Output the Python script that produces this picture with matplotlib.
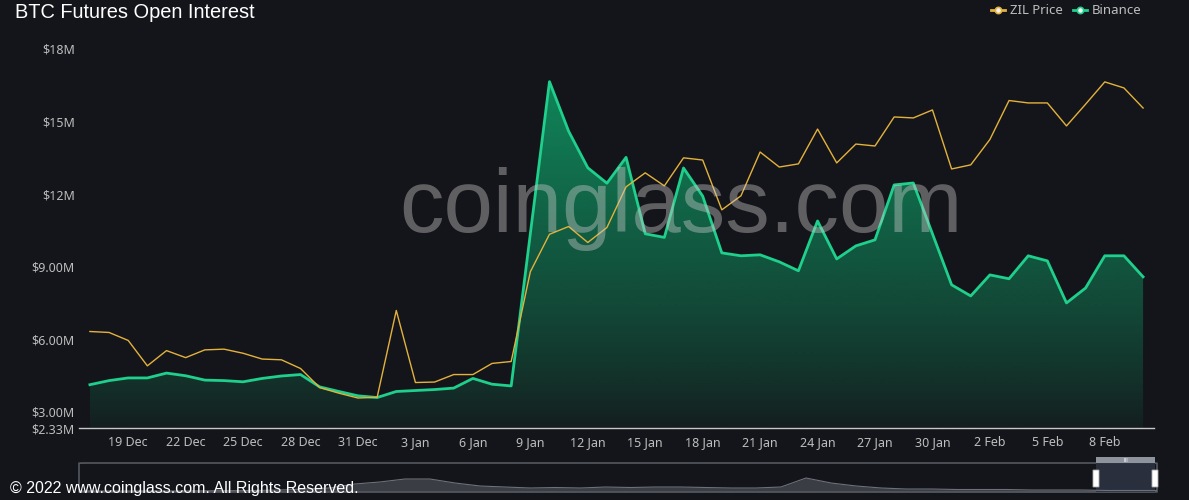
import numpy as np
import pandas as pd
import matplotlib
matplotlib.use('Agg')
import matplotlib.pyplot as plt
from matplotlib.patches import FancyBboxPatch, Rectangle
from matplotlib.lines import Line2D

# daily points, 17 Dec 2021 .. 10 Feb 2022 (values in $M)
dates = pd.date_range('2021-12-17', '2022-02-10', freq='D')

zil_price = [6.32, 6.28, 5.95, 4.90, 5.53, 5.24, 5.56, 5.59, 5.42, 5.18,
             5.15, 4.79, 4.00, 3.77, 3.57, 3.60, 7.19, 4.21, 4.23, 4.54,
             4.54, 5.00, 5.08, 8.79, 10.34, 10.66, 10.00, 10.62, 12.30, 12.88,
             12.34, 13.50, 13.41, 11.35, 11.93, 13.74, 13.12, 13.25, 14.69, 13.29,
             14.07, 13.99, 15.19, 15.15, 15.48, 13.04, 13.21, 14.26, 15.87, 15.77,
             15.77, 14.82, 15.72, 16.64, 16.39, 15.56]

binance = [4.12, 4.29, 4.40, 4.40, 4.60, 4.49, 4.31, 4.29, 4.24, 4.38,
           4.48, 4.54, 4.03, 3.84, 3.66, 3.59, 3.84, 3.88, 3.92, 3.98,
           4.38, 4.14, 4.07, 10.36, 16.65, 14.60, 13.09, 12.45, 13.52, 10.36,
           10.21, 13.08, 11.92, 9.57, 9.45, 9.49, 9.20, 8.83, 10.89, 9.32,
           9.86, 10.11, 12.38, 12.46, 10.36, 8.25, 7.79, 8.66, 8.50, 9.45,
           9.24, 7.50, 8.12, 9.45, 9.45, 8.58]

y_ticks = [2.33, 3, 6, 9, 12, 15, 18]
y_labels = ['$2.33M', '$3.00M', '$6.00M', '$9.00M', '$12M', '$15M', '$18M']

# overview series shown in the zoom slider (full history, rough shape)
overview = [1, 1, 1, 1, 1, 1.2, 1.3, 1.5, 2, 3, 4, 8, 10, 13, 13, 9, 6, 5, 4, 4.5,
            4, 5, 4.5, 5, 5, 4.5, 4, 4, 5, 14, 9, 6, 4, 3, 3, 2.5, 2.5, 2.5, 2, 2,
            2, 1.5, 1.5, 1.5]

BG = '#14151a'
GREEN = '#1fcf8c'
GOLD = '#e3b23c'
TXT = '#bdbdbd'

W, H = 1189, 500
fig = plt.figure(figsize=(W / 100, H / 100), dpi=100, facecolor=BG)


def fx(x):
    return x / W


def fy(y):
    return 1 - y / H


ax = fig.add_axes([fx(79), fy(428), fx(1154) - fx(79), fy(49) - fy(428)])
ax.set_facecolor(BG)

x = np.arange(len(dates))
ax.set_xlim(-0.57, len(dates) - 1 + 0.57)
ax.set_ylim(2.33, 18)

# gradient area under Binance
poly = ax.fill_between(x, binance, 2.33, color='none', lw=0)
top = max(binance)
grad = np.linspace(0, 1, 256).reshape(-1, 1)
rgba = np.zeros((256, 1, 4))
rgba[..., 0] = 14 / 255
rgba[..., 1] = 203 / 255
rgba[..., 2] = 129 / 255
rgba[..., 3] = (0.05 + 0.57 * grad ** 0.85)[:, 0:1]
img = ax.imshow(rgba, extent=[x[0], x[-1], 2.33, top], origin='lower',
                aspect='auto', zorder=1)
clip = poly.get_paths()[0]
img.set_clip_path(clip, transform=ax.transData)

# watermark
fig.text(fx(681), fy(232), 'coinglass.com', fontsize=64, family='Liberation Sans',
         color='#c8c8c8', alpha=0.42, ha='center', va='baseline', zorder=2)

ax.plot(x, binance, color=GREEN, lw=2, zorder=3)
ax.plot(x, zil_price, color=GOLD, lw=1, zorder=4)

ax.set_yticks(y_ticks)
ax.set_yticklabels(y_labels)
tick_idx = list(range(2, len(dates), 3))
ax.set_xticks(tick_idx)
ax.set_xticklabels([f"{dates[i].day} {dates[i].strftime('%b')}" for i in tick_idx])
ax.tick_params(axis='y', length=0, pad=3, labelsize=9, labelcolor=TXT)
ax.tick_params(axis='x', length=0, pad=6, labelsize=9, labelcolor=TXT)
for lab in ax.get_xticklabels() + ax.get_yticklabels():
    lab.set_family('Noto Sans')
for s in ['top', 'right', 'left']:
    ax.spines[s].set_visible(False)
ax.spines['bottom'].set_color('#c8c8c8')
ax.spines['bottom'].set_linewidth(1)

# title
fig.text(fx(15), fy(12), 'BTC Futures Open Interest', fontsize=14.4,
         family='Liberation Sans', color='white', va='center', ha='left')

# legend
for mx, col, name in [(998, GOLD, 'ZIL Price'), (1080, GREEN, 'Binance')]:
    fig.add_artist(Line2D([fx(mx - 7), fx(mx + 7)], [fy(10), fy(10)], color=col, lw=2))
    fig.add_artist(Line2D([fx(mx)], [fy(10)], marker='o', ms=4.5, color=col,
                          mfc='#f2f2f2', mew=1.2))
    fig.text(fx(mx + 12), fy(10), name, fontsize=9.5, family='Noto Sans',
             color=TXT, va='center', ha='left')

# zoom slider
sx = fig.add_axes([fx(79), fy(492), fx(1157) - fx(79), fy(463) - fy(492)])
sx.set_facecolor('none')
sx.set_xlim(0, len(overview) - 1)
sx.set_ylim(0, 29)
sx.axis('off')
ox = np.arange(len(overview))
sx.fill_between(ox, overview, 0, color='#3b3d45', lw=0)
sx.plot(ox, overview, color='#6d7078', lw=0.8)
sx.add_patch(FancyBboxPatch((0, 0), len(overview) - 1, 29,
                            boxstyle='round,pad=0,rounding_size=0.3',
                            fc='none', ec='#55585f', lw=1.2, clip_on=False))
sel0 = (1096 - 79) / (1157 - 79) * (len(overview) - 1)
sel1 = (1155 - 79) / (1157 - 79) * (len(overview) - 1)
sx.add_patch(Rectangle((sel0, 0), sel1 - sel0, 29, fc='#2c3242', ec='none', alpha=0.9))
sx.add_patch(Rectangle((sel0, 29), sel1 - sel0, 6, fc='#8e939c', ec='none', clip_on=False))
sx.text((sel0 + sel1) / 2, 32, 'III', fontsize=4, color='white', ha='center', va='center')
for hx in (sel0, sel1):
    sx.add_patch(FancyBboxPatch((hx - 0.12, 5), 0.24, 17,
                                boxstyle='round,pad=0,rounding_size=0.1',
                                fc='white', ec='#aaaaaa', lw=0.6, clip_on=False))

fig.text(fx(10), fy(488), '\u00a9 2022 www.coinglass.com. All Rights Reserved.',
         fontsize=11.5, family='Liberation Sans', color='white', va='center', ha='left')

plt.savefig('out.png', dpi=100, facecolor=BG)
plt.close('all')
